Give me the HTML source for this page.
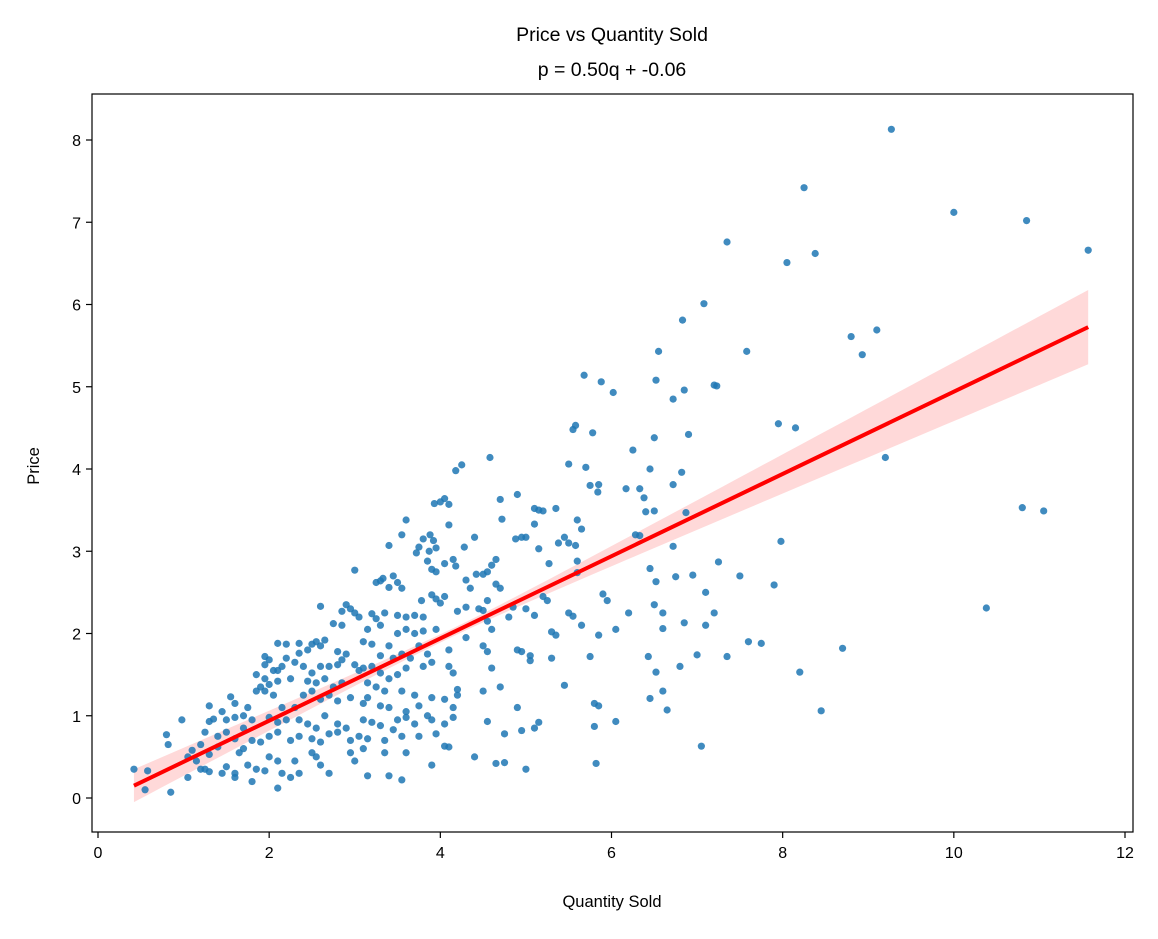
<!DOCTYPE html>
<html><head><meta charset="utf-8"><style>
html,body{margin:0;padding:0;background:#fff;}
svg text{font-family:"Liberation Sans","DejaVu Sans",sans-serif;fill:#000;}
</style></head><body>
<svg id="chart" width="1158" height="934" viewBox="0 0 1158 934" xmlns="http://www.w3.org/2000/svg">
<rect width="1158" height="934" fill="#fff"/>
<text x="612" y="41" font-size="19.5" text-anchor="middle">Price vs Quantity Sold</text>
<text x="612" y="76" font-size="19.5" text-anchor="middle">p = 0.50q + -0.06</text>
<g id="band"></g>
<g id="pts"></g>
<g id="fit"></g>
<g id="axes"></g>
<text x="612" y="907" font-size="16.5" text-anchor="middle">Quantity Sold</text>
<text x="39" y="466" font-size="16.5" text-anchor="middle" transform="rotate(-90 39 466)">Price</text>
</svg>
<script>
const xTicks=[0,2,4,6,8,10,12];
const yTicks=[0,1,2,3,4,5,6,7,8];
const slope=0.50, intercept=-0.06;
const qty=[9.27,8.25,10.0,10.85,7.35,11.57,8.38,8.05,7.08,6.83,9.1,8.8,8.93,6.55,7.58,5.68,5.88,6.02,6.52,6.85,7.2,7.23,6.72,5.58,5.55,5.78,6.9,7.95,8.15,6.25,6.5,9.2,4.58,4.25,4.18,5.5,5.7,6.45,6.82,5.75,5.85,5.84,6.17,6.33,6.38,6.72,6.4,6.5,6.87,10.8,11.05,4.9,4.7,4.05,4.0,3.93,4.1,5.35,5.1,5.15,5.2,4.72,3.6,4.1,5.1,5.6,5.65,5.45,5.5,5.38,5.58,4.88,4.95,5.0,5.15,3.4,3.55,3.8,3.88,3.92,3.95,3.87,3.75,3.72,4.28,4.4,6.28,6.33,6.72,7.98,5.6,5.27,4.6,4.65,4.55,4.5,4.42,4.15,4.18,4.05,3.85,3.9,3.95,3.0,3.3,3.45,3.5,3.4,3.25,3.55,3.33,6.45,6.52,6.75,6.95,7.25,7.5,7.9,5.6,4.3,4.35,4.65,4.7,2.6,2.9,2.95,3.0,2.85,3.05,3.2,3.25,3.35,3.5,3.6,3.7,3.8,3.78,3.9,3.95,4.05,4.0,4.2,4.3,4.45,4.5,4.55,4.85,5.0,5.1,5.2,5.25,5.5,5.55,5.9,5.95,6.2,6.5,6.6,7.1,7.2,10.38,2.75,2.85,3.15,3.3,3.5,3.6,3.7,3.8,3.95,4.55,4.6,4.8,5.3,5.35,5.65,5.85,6.05,6.6,6.85,7.1,2.1,2.2,2.35,2.5,2.55,2.65,2.45,2.35,2.6,2.8,2.9,3.1,3.2,3.4,3.3,3.45,3.55,3.65,3.75,3.85,4.1,4.3,4.5,4.55,4.6,4.9,4.95,5.05,5.05,5.3,5.75,6.43,6.52,6.8,7.0,7.35,7.6,7.75,8.7,8.2,1.95,2.0,1.95,2.05,2.1,2.15,2.2,2.3,2.4,2.5,2.6,2.7,2.8,2.85,3.0,3.05,3.1,3.2,3.3,3.4,3.5,3.6,3.8,3.9,4.1,4.15,1.85,1.95,2.0,2.1,2.25,2.45,2.55,2.65,2.75,2.85,3.15,3.25,3.35,3.55,3.7,3.9,4.05,4.2,4.2,4.5,4.7,5.45,6.45,6.6,6.65,5.8,5.85,8.45,1.55,1.6,1.75,1.85,1.9,1.95,2.05,2.15,2.3,2.4,2.5,2.6,2.7,2.8,2.95,3.1,3.15,3.3,3.4,3.6,3.75,3.85,4.15,4.15,4.55,4.9,5.15,5.1,5.8,6.05,1.3,1.35,1.45,1.5,1.6,1.7,1.8,2.0,2.1,2.2,2.35,2.45,2.55,2.65,2.8,2.9,3.1,3.2,3.3,3.45,3.5,3.6,3.7,3.9,4.05,0.98,1.1,1.2,1.25,1.3,1.4,1.5,1.6,1.7,1.8,1.9,2.0,2.1,2.25,2.35,2.5,2.6,2.7,2.8,2.95,3.05,3.15,3.35,3.55,3.75,3.95,4.05,4.1,4.75,4.95,7.05,0.8,0.82,1.05,1.15,1.2,1.3,1.4,1.5,1.6,1.65,1.7,1.75,1.85,1.95,2.0,2.1,2.15,2.25,2.3,2.35,2.5,2.55,2.6,2.7,2.95,3.0,3.1,3.15,3.35,3.4,3.55,3.6,3.9,4.4,4.65,4.75,5.0,5.82,0.42,0.55,0.58,0.85,1.05,1.25,1.3,1.45,1.6,1.8,2.1];
const price=[8.13,7.42,7.12,7.02,6.76,6.66,6.62,6.51,6.01,5.81,5.69,5.61,5.39,5.43,5.43,5.14,5.06,4.93,5.08,4.96,5.02,5.01,4.85,4.53,4.48,4.44,4.42,4.55,4.50,4.23,4.38,4.14,4.14,4.05,3.98,4.06,4.02,4.0,3.96,3.80,3.81,3.72,3.76,3.76,3.65,3.81,3.48,3.49,3.47,3.53,3.49,3.69,3.63,3.64,3.6,3.58,3.57,3.52,3.52,3.50,3.49,3.39,3.38,3.32,3.33,3.38,3.27,3.17,3.1,3.1,3.07,3.15,3.17,3.17,3.03,3.07,3.2,3.15,3.2,3.13,3.04,3.0,3.05,2.98,3.05,3.17,3.2,3.19,3.06,3.12,2.88,2.85,2.83,2.9,2.75,2.72,2.72,2.9,2.82,2.85,2.88,2.78,2.75,2.77,2.64,2.7,2.62,2.56,2.62,2.55,2.67,2.79,2.63,2.69,2.71,2.87,2.70,2.59,2.74,2.65,2.55,2.6,2.55,2.33,2.35,2.3,2.25,2.27,2.2,2.24,2.18,2.25,2.22,2.2,2.22,2.2,2.4,2.47,2.42,2.45,2.37,2.27,2.32,2.3,2.28,2.4,2.32,2.3,2.22,2.45,2.4,2.25,2.21,2.48,2.40,2.25,2.35,2.25,2.5,2.25,2.31,2.12,2.1,2.05,2.1,2.0,2.05,2.0,2.03,2.05,2.15,2.05,2.2,2.02,1.98,2.1,1.98,2.05,2.06,2.13,2.1,1.88,1.87,1.88,1.87,1.9,1.92,1.8,1.76,1.85,1.78,1.75,1.9,1.87,1.85,1.73,1.7,1.75,1.7,1.85,1.75,1.8,1.95,1.85,1.78,1.58,1.8,1.78,1.67,1.73,1.7,1.72,1.72,1.53,1.6,1.74,1.72,1.9,1.88,1.82,1.53,1.72,1.68,1.62,1.55,1.55,1.6,1.7,1.65,1.6,1.52,1.6,1.6,1.62,1.68,1.62,1.55,1.58,1.6,1.52,1.45,1.5,1.58,1.6,1.65,1.6,1.52,1.5,1.45,1.38,1.42,1.45,1.42,1.4,1.45,1.35,1.4,1.4,1.35,1.3,1.3,1.25,1.22,1.2,1.32,1.25,1.3,1.35,1.37,1.21,1.3,1.07,1.15,1.12,1.06,1.23,1.15,1.1,1.3,1.35,1.3,1.25,1.1,1.1,1.25,1.3,1.2,1.25,1.18,1.22,1.15,1.22,1.12,1.1,1.05,1.12,1.0,1.1,0.98,0.93,1.1,0.92,0.85,0.87,0.93,1.12,0.96,1.05,0.95,0.98,1.0,0.95,0.98,0.92,0.95,0.95,0.9,0.85,1.0,0.9,0.85,0.95,0.92,0.88,0.83,0.95,0.98,0.9,0.95,0.9,0.95,0.58,0.65,0.8,0.93,0.75,0.8,0.72,0.85,0.7,0.68,0.75,0.8,0.7,0.75,0.72,0.68,0.78,0.8,0.7,0.75,0.72,0.7,0.75,0.75,0.78,0.63,0.62,0.78,0.82,0.63,0.77,0.65,0.5,0.45,0.35,0.53,0.62,0.38,0.3,0.55,0.6,0.4,0.35,0.33,0.5,0.45,0.3,0.25,0.45,0.3,0.55,0.5,0.4,0.3,0.55,0.45,0.6,0.27,0.55,0.27,0.22,0.55,0.4,0.5,0.42,0.43,0.35,0.42,0.35,0.1,0.33,0.07,0.25,0.35,0.32,0.3,0.25,0.2,0.12];
const bandHalf0=0.05, bandSpread=0.052;

const NS='http://www.w3.org/2000/svg';
const L=92,R=1133,T=94,B=832;
const xs=v=>98+v*(1125-98)/12;
const ys=v=>798-v*(798-140)/8;
function mk(tag,attrs,parent){const e=document.createElementNS(NS,tag);for(const k in attrs)e.setAttribute(k,attrs[k]);parent.appendChild(e);return e;}
const pts=document.getElementById('pts'), band=document.getElementById('band'), fit=document.getElementById('fit'), axes=document.getElementById('axes');

const n=qty.length;
const xm=qty.reduce((a,b)=>a+b,0)/n;
const xmin=Math.min(...qty), xmax=Math.max(...qty);
const up=[],lo=[];
for(let i=0;i<=60;i++){const x=xmin+(xmax-xmin)*i/60;const y=slope*x+intercept;const h=Math.sqrt(bandHalf0*bandHalf0+bandSpread*bandSpread*(x-xm)*(x-xm)*(x>xm?1.35:1));up.push(xs(x)+','+ys(y+h));lo.unshift(xs(x)+','+ys(y-h));}
const poly=mk('polygon',{points:up.concat(lo).join(' '),fill:'#ff0000','fill-opacity':'0.15',stroke:'none'},band);



for(let i=0;i<n;i++){
 const c=mk('circle',{cx:xs(qty[i]),cy:ys(price[i]),r:3.6,fill:'#1f77b4','fill-opacity':'0.85'},pts);
 
 
}
const ln=mk('line',{x1:xs(xmin),y1:ys(slope*xmin+intercept),x2:xs(xmax),y2:ys(slope*xmax+intercept),stroke:'#ff0000','stroke-width':4},fit);



const fr=mk('rect',{x:L,y:T,width:R-L,height:B-T,fill:'none',stroke:'#000','stroke-width':1.2},axes);


xTicks.forEach(t=>{
 const x=xs(t);
 const tk=mk('line',{x1:x,y1:B,x2:x,y2:B+6,stroke:'#000','stroke-width':1.2},axes);
 
 
 const tx=mk('text',{x:x,y:B+26,'font-size':16,'text-anchor':'middle'},axes);
 tx.textContent=t;
 
 
});
yTicks.forEach(t=>{
 const y=ys(t);
 const tk=mk('line',{x1:L-6,y1:y,x2:L,y2:y,stroke:'#000','stroke-width':1.2},axes);
 
 
 const tx=mk('text',{x:L-11,y:y+6,'font-size':16,'text-anchor':'end'},axes);
 tx.textContent=t;
 
 
});
</script>
</body></html>
